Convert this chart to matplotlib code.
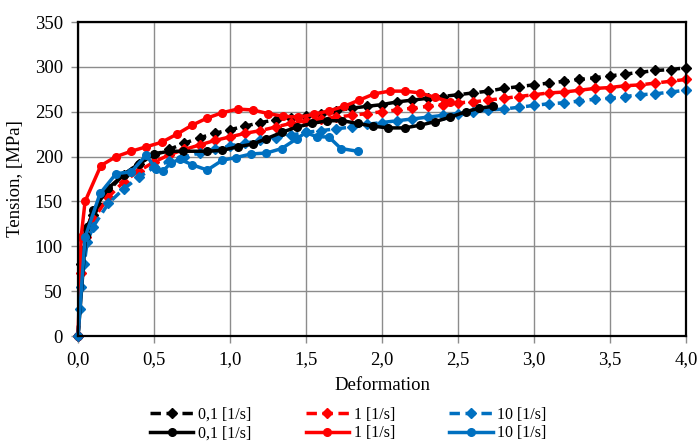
import matplotlib
matplotlib.use('Agg')
import matplotlib.pyplot as plt
from matplotlib.ticker import FuncFormatter

plt.rcParams['font.family'] = ['Liberation Serif', 'DejaVu Serif']

# dashed series (diamonds)
x_d01 = [0, 0.02, 0.05, 0.1, 0.2, 0.3, 0.4, 0.5, 0.6, 0.7, 0.8, 0.9, 1.0, 1.1, 1.2, 1.3, 1.4, 1.5,
         1.6, 1.7, 1.8, 1.9, 2.0, 2.1, 2.2, 2.3, 2.4, 2.5, 2.6, 2.7, 2.8, 2.9, 3.0, 3.1, 3.2, 3.3,
         3.4, 3.5, 3.6, 3.7, 3.8, 3.9, 4.0]
y_d01 = [0, 80, 120, 135, 162, 180, 192, 202, 208, 215, 221, 226, 230, 234, 238, 241, 243, 245,
         248, 251, 254, 256, 258, 261, 263, 265, 267, 269, 271, 273, 276, 278, 280, 282, 284, 286,
         288, 290, 292, 294, 296, 297, 299]

x_d1 = x_d01
y_d1 = [0, 70, 110, 130, 155, 172, 184, 194, 202, 208, 213, 218, 222, 226, 229, 233, 237, 240,
        242, 244, 246, 248, 250, 252, 254, 256, 258, 260, 261, 263, 265, 267, 269, 271, 272, 274,
        276, 277, 279, 280, 282, 284, 286]

x_d10 = [0, 0.01, 0.02, 0.04, 0.06, 0.1, 0.2, 0.3, 0.4, 0.5, 0.6, 0.7, 0.8, 0.9, 1.0, 1.1, 1.2,
         1.3, 1.4, 1.5, 1.6, 1.7, 1.8, 1.9, 2.0, 2.1, 2.2, 2.3, 2.4, 2.5, 2.6, 2.7, 2.8, 2.9, 3.0,
         3.1, 3.2, 3.3, 3.4, 3.5, 3.6, 3.7, 3.8, 3.9, 4.0]
y_d10 = [0, 30, 55, 80, 105, 122, 148, 164, 177, 188, 195, 200, 204, 208, 212, 215, 218,
         221, 224, 227, 229, 231, 233, 236, 238, 240, 242, 244, 246, 248, 250, 252, 253, 255, 257,
         259, 260, 262, 264, 265, 267, 269, 270, 272, 274]

# solid series (circles)
x_s01 = [0, 0.05, 0.1, 0.2, 0.3, 0.4, 0.5, 0.6, 0.69, 0.85, 0.95, 1.05, 1.15, 1.24, 1.34, 1.44,
         1.54, 1.64, 1.74, 1.84, 1.94, 2.04, 2.15, 2.25, 2.35, 2.45, 2.55, 2.64, 2.73]
y_s01 = [0, 112, 140, 165, 180, 192, 203, 206, 206, 206, 207, 211, 214, 220, 227, 233,
         237, 240, 240, 237, 234, 232, 232, 235, 239, 244, 250, 254, 256]

x_s1 = [0, 0.02, 0.046, 0.15, 0.25, 0.35, 0.45, 0.55, 0.65, 0.75, 0.85, 0.95, 1.05, 1.15, 1.25,
        1.35, 1.45, 1.55, 1.65, 1.75, 1.85, 1.95, 2.05, 2.15, 2.25, 2.35, 2.45]
y_s1 = [0, 110, 150, 190, 200, 206, 211, 216, 225, 235, 243, 249, 253, 252, 248,
        245, 244, 247, 251, 256, 263, 270, 273, 273, 271, 266, 261]

x_s10 = [0, 0.046, 0.145, 0.25, 0.35, 0.45, 0.51, 0.56, 0.61, 0.67, 0.75, 0.85, 0.95, 1.04, 1.14,
         1.24, 1.34, 1.44, 1.5, 1.57, 1.65, 1.73, 1.84]
y_s10 = [0, 110, 159, 181, 183, 202, 186, 184, 193, 197, 191, 185, 196, 199, 203,
         204, 209, 220, 227, 222, 222, 209, 206]

labels = ['0,1 [1/s]', '1 [1/s]', '10 [1/s]']
c_black = '#000000'
c_red = '#ff0000'
c_blue = '#0070c0'

fig = plt.figure(figsize=(6.97, 4.41), dpi=100)
ax = fig.add_axes([0.112, 0.238, 0.872, 0.712])

dash = (3.0, 1.6)
h_d01, = ax.plot(x_d01, y_d01, color=c_black, lw=2.5, dashes=dash, marker='D', ms=5.5, clip_on=False)
h_d1, = ax.plot(x_d1, y_d1, color=c_red, lw=2.5, dashes=dash, marker='D', ms=5.5, clip_on=False)
h_d10, = ax.plot(x_d10, y_d10, color=c_blue, lw=2.5, dashes=dash, marker='D', ms=5.5, clip_on=False)
h_s01, = ax.plot(x_s01, y_s01, color=c_black, lw=2.5, marker='o', ms=5.5, clip_on=False)
h_s1, = ax.plot(x_s1, y_s1, color=c_red, lw=2.5, marker='o', ms=5.5, clip_on=False)
h_s10, = ax.plot(x_s10, y_s10, color=c_blue, lw=2.5, marker='o', ms=5.5, clip_on=False)

ax.set_xlim(0, 4.0)
ax.set_ylim(0, 350)
ax.set_xticks([0, 0.5, 1.0, 1.5, 2.0, 2.5, 3.0, 3.5, 4.0])
ax.set_yticks(range(0, 351, 50))
ax.xaxis.set_major_formatter(FuncFormatter(lambda v, p: ('%.1f' % v).replace('.', ',')))
ax.grid(True, color='#8c8c8c', lw=1)
ax.set_axisbelow(True)
for s in ax.spines.values():
    s.set_linewidth(1.6)
ax.tick_params(direction='out', length=5, width=1, color='#8c8c8c', labelsize=13.5, pad=6)
ax.set_xlabel('Deformation', fontsize=13.5, labelpad=6)
ax.set_ylabel('Tension, [MPa]', fontsize=13.5, labelpad=8)

leg = fig.legend([h_d01, h_s01, h_d1, h_s1, h_d10, h_s10],
                 [labels[0], labels[0], labels[1], labels[1], labels[2], labels[2]],
                 ncol=3, loc='center', bbox_to_anchor=(0.5, 0.038), frameon=False,
                 fontsize=11.5, handlelength=2.7, columnspacing=3.4, handletextpad=0.3,
                 labelspacing=0.15)

fig.savefig('out.png', dpi=100)
